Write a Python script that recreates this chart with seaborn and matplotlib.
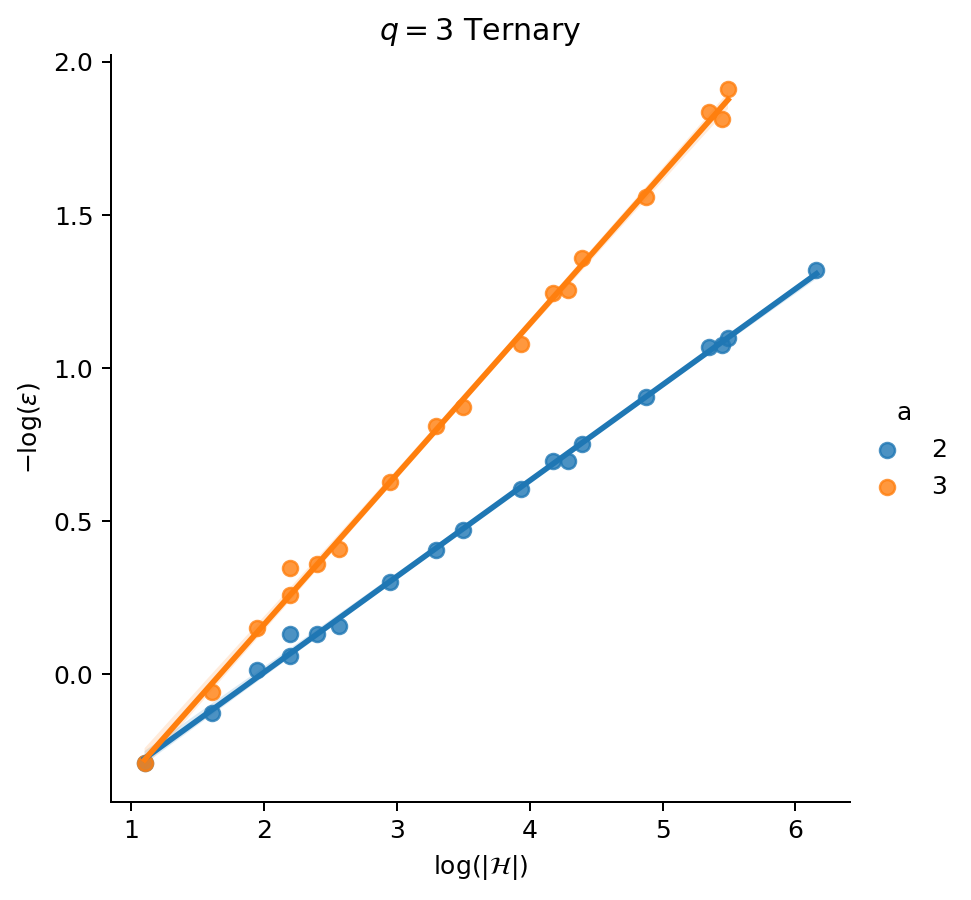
import matplotlib
matplotlib.use('Agg')
import matplotlib.pyplot as plt
import seaborn as sns
import pandas as pd

# log(|H|) values for each alphabet size a
x_a2 = [1.099, 1.609, 1.946, 2.197, 2.197, 2.398, 2.565, 2.944, 3.296, 3.497,
        3.932, 4.174, 4.290, 4.394, 4.875, 5.352, 5.451, 5.493, 6.159]
y_a2 = [-0.290, -0.127, 0.013, 0.131, 0.059, 0.131, 0.157, 0.303, 0.405, 0.473,
        0.604, 0.698, 0.698, 0.754, 0.907, 1.070, 1.075, 1.099, 1.321]

x_a3 = [1.099, 1.609, 1.946, 2.197, 2.197, 2.398, 2.565, 2.944, 3.296, 3.497,
        3.932, 4.174, 4.290, 4.394, 4.875, 5.352, 5.451, 5.493]
y_a3 = [-0.290, -0.059, 0.150, 0.346, 0.258, 0.359, 0.408, 0.630, 0.812, 0.874,
        1.080, 1.246, 1.256, 1.360, 1.560, 1.837, 1.814, 1.912]

df = pd.DataFrame({
    'logH': x_a2 + x_a3,
    'negLogEps': y_a2 + y_a3,
    'a': [2] * len(x_a2) + [3] * len(x_a3),
})

g = sns.lmplot(data=df, x='logH', y='negLogEps', hue='a', height=5)
ax = g.ax
ax.set_xlabel(r'$\log(|\mathcal{H}|)$')
ax.set_ylabel(r'$-\log(\varepsilon)$')
ax.set_title(r'$q = 3$ Ternary')
ax.set_xticks([1, 2, 3, 4, 5, 6])
ax.set_yticks([0.0, 0.5, 1.0, 1.5, 2.0])

fig = g.figure
fig.set_size_inches(971 / 180, 900 / 180)
fig.subplots_adjust(left=0.1143, right=0.8754, top=0.9389, bottom=0.1089)
g._legend.set_bbox_to_anchor((0.999, 0.50))

fig.savefig('out.png', dpi=180)
plt.close()
